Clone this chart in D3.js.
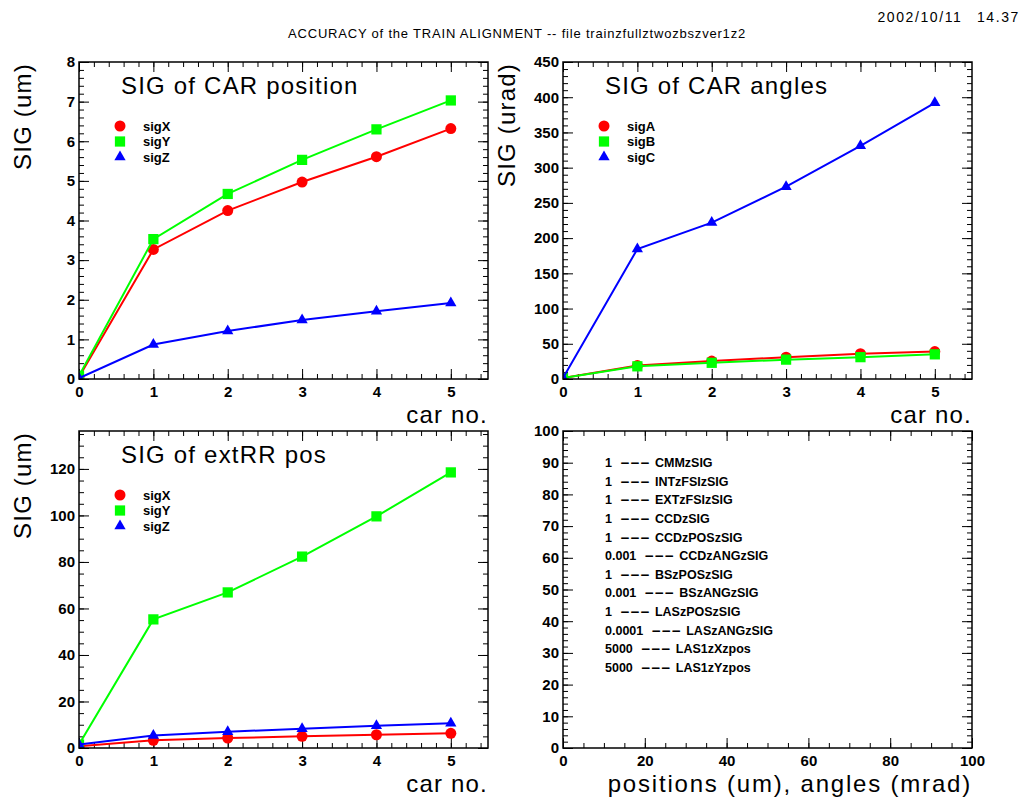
<!DOCTYPE html>
<html>
<head>
<meta charset="utf-8">
<script src="https://cdn.jsdelivr.net/npm/d3@7"></script>
<style>
body { margin: 0; background: #fff; }
text { font-family: "Liberation Sans", Arial, sans-serif; }
</style>
</head>
<body>
<svg id="chart" width="1025" height="798"></svg>
<script>
// values
const carNo = [0, 1, 2, 3, 4, 5];
const posSigX = [0.05, 3.27, 4.25, 4.97, 5.61, 6.32];
const posSigY = [0.08, 3.53, 4.67, 5.53, 6.30, 7.03];
const posSigZ = [0.02, 0.87, 1.21, 1.49, 1.71, 1.92];
const angSigA = [1.5, 19, 25.5, 31, 36, 39];
const angSigB = [1.5, 18, 23, 27.5, 31, 35];
const angSigC = [1.5, 184.5, 222, 273, 331, 392];
const extSigX = [0.7, 3.3, 4.3, 5.0, 5.7, 6.3];
const extSigY = [1.5, 55.3, 66.9, 82.3, 99.6, 118.5];
const extSigZ = [1.5, 5.4, 7.0, 8.3, 9.6, 10.6];
const scaleFactors = ["1", "1", "1", "1", "1", "0.001", "1", "0.001", "1", "0.0001", "5000", "5000"];
const sigNames = ["CMMzSIG", "INTzFSIzSIG", "EXTzFSIzSIG", "CCDzSIG", "CCDzPOSzSIG", "CCDzANGzSIG",
                  "BSzPOSzSIG", "BSzANGzSIG", "LASzPOSzSIG", "LASzANGzSIG", "LAS1zXzpos", "LAS1zYzpos"];

const red = "#ff0000", green = "#00ff00", blue = "#0000ff";
const markers = [d3.symbolCircle, d3.symbolSquare, d3.symbolTriangle];
const markerSize = [95, 105, 55];

const panels = [
  {x0: 79, x1: 488, y0: 62, y1: 379, xDom: [0, 5.5], yDom: [0, 8], xMaj: 1, xMin: 0.2, yMaj: 1, yMin: 0.2,
   title: "SIG of CAR position", yTitle: "SIG (um)", xTitle: "car no.",
   series: [posSigX, posSigY, posSigZ], names: ["sigX", "sigY", "sigZ"]},
  {x0: 563, x1: 972, y0: 62, y1: 379, xDom: [0, 5.5], yDom: [0, 450], xMaj: 1, xMin: 0.2, yMaj: 50, yMin: 10,
   title: "SIG of CAR angles", yTitle: "SIG (urad)", xTitle: "car no.",
   series: [angSigA, angSigB, angSigC], names: ["sigA", "sigB", "sigC"]},
  {x0: 79, x1: 488, y0: 431, y1: 748, xDom: [0, 5.5], yDom: [0, 136.3], xMaj: 1, xMin: 0.2, yMaj: 20, yMin: 5,
   title: "SIG of extRR pos", yTitle: "SIG (um)", xTitle: "car no.",
   series: [extSigX, extSigY, extSigZ], names: ["sigX", "sigY", "sigZ"]},
  {x0: 563, x1: 972, y0: 431, y1: 748, xDom: [0, 100], yDom: [0, 100], xMaj: 20, xMin: 5, yMaj: 10, yMin: 2,
   title: null, yTitle: null, xTitle: "positions (um), angles (mrad)", series: [], names: []}
];
const colors = [red, green, blue];

const svg = d3.select("#chart");

// header
svg.append("text")
  .attr("x", 517).attr("y", 38)
  .attr("text-anchor", "middle")
  .style("font-size", "13px").style("letter-spacing", "0.8px")
  .text("ACCURACY of the TRAIN ALIGNMENT -- file trainzfullztwozbszver1z2");
svg.append("text")
  .attr("x", 1020).attr("y", 22)
  .attr("text-anchor", "end")
  .style("font-size", "14px").style("letter-spacing", "1.6px")
  .style("word-spacing", "9px")
  .text("2002/10/11 14.37");

function tickList(dom, step) {
  const n = Math.floor(dom[1] / step + 1e-6);
  return d3.range(0, n + 1).map(i => +(i * step).toFixed(6));
}

panels.forEach((p, pi) => {
  const w = p.x1 - p.x0, h = p.y1 - p.y0;
  const g = svg.append("g").attr("transform", "translate(" + p.x0 + "," + p.y0 + ")");
  const xs = d3.scaleLinear().domain(p.xDom).range([0, w]);
  const ys = d3.scaleLinear().domain(p.yDom).range([h, 0]);

  const xMajor = tickList(p.xDom, p.xMaj), xMinor = tickList(p.xDom, p.xMin);
  const yMajor = tickList(p.yDom, p.yMaj), yMinor = tickList(p.yDom, p.yMin);

  // ticks point inward, on all four sides
  const axes = g.append("g").attr("class", "axes");
  axes.append("g").attr("transform", "translate(0," + h + ")")
    .call(d3.axisBottom(xs).tickValues(xMajor).tickSizeInner(-10).tickSizeOuter(0).tickPadding(7).tickFormat(d3.format("d")));
  axes.append("g").attr("transform", "translate(0," + h + ")")
    .call(d3.axisBottom(xs).tickValues(xMinor).tickSizeInner(-5).tickSizeOuter(0).tickFormat(""));
  axes.append("g")
    .call(d3.axisTop(xs).tickValues(xMajor).tickSizeInner(-10).tickSizeOuter(0).tickFormat(""));
  axes.append("g")
    .call(d3.axisTop(xs).tickValues(xMinor).tickSizeInner(-5).tickSizeOuter(0).tickFormat(""));
  axes.append("g")
    .call(d3.axisLeft(ys).tickValues(yMajor).tickSizeInner(-10).tickSizeOuter(0).tickPadding(4).tickFormat(d3.format("d")));
  axes.append("g")
    .call(d3.axisLeft(ys).tickValues(yMinor).tickSizeInner(-5).tickSizeOuter(0).tickFormat(""));
  axes.append("g").attr("transform", "translate(" + w + ",0)")
    .call(d3.axisRight(ys).tickValues(yMajor).tickSizeInner(-10).tickSizeOuter(0).tickFormat(""));
  axes.append("g").attr("transform", "translate(" + w + ",0)")
    .call(d3.axisRight(ys).tickValues(yMinor).tickSizeInner(-5).tickSizeOuter(0).tickFormat(""));
  axes.selectAll(".domain").remove();
  axes.selectAll(".tick line").attr("stroke", "#000").attr("stroke-width", 1);
  axes.selectAll(".tick text")
    .attr("fill", "#000")
    .style("font-family", "'Liberation Sans', Arial, sans-serif")
    .style("font-size", "15px").style("font-weight", "bold");

  // data, clipped to the frame
  g.append("clipPath").attr("id", "clip" + pi)
    .append("rect").attr("width", w).attr("height", h);
  const plot = g.append("g").attr("clip-path", "url(#clip" + pi + ")");
  const line = d3.line().x((d, i) => xs(carNo[i])).y(d => ys(d));
  p.series.forEach((s, si) => {
    plot.append("path").datum(s)
      .attr("d", line)
      .attr("fill", "none").attr("stroke", colors[si]).attr("stroke-width", 2);
    plot.selectAll(".m" + si).data(s).enter().append("path")
      .attr("class", "m" + si)
      .attr("transform", (d, i) => "translate(" + xs(carNo[i]) + "," + ys(d) + ")")
      .attr("d", d3.symbol().type(markers[si]).size(markerSize[si]))
      .attr("fill", colors[si]);
  });

  g.append("rect").attr("width", w).attr("height", h)
    .attr("fill", "none").attr("stroke", "#000").attr("stroke-width", 1.5);

  // legend
  p.names.forEach((nm, li) => {
    const ly = 64 + 15.5 * li;
    g.append("path")
      .attr("transform", "translate(41," + ly + ")")
      .attr("d", d3.symbol().type(markers[li]).size(markerSize[li]))
      .attr("fill", colors[li]);
    g.append("text").attr("x", 64).attr("y", ly + 4.5)
      .style("font-size", "13px").style("font-weight", "bold")
      .text(nm);
  });

  if (p.title) {
    g.append("text").attr("x", 42).attr("y", 32)
      .style("font-size", "24px").style("letter-spacing", "1.2px")
      .text(p.title);
  }
  if (p.yTitle) {
    g.append("text")
      .attr("transform", "translate(-48,1)rotate(-90)")
      .attr("text-anchor", "end")
      .style("font-size", "24px").style("letter-spacing", "1.2px")
      .text(p.yTitle);
  }
  g.append("text").attr("x", w).attr("y", h + 43.5)
    .attr("text-anchor", "end")
    .style("font-size", "24px").style("letter-spacing", pi === 3 ? "1.8px" : "1.2px")
    .text(p.xTitle);

  // scale factor list in the empty fourth pad
  if (pi === 3) {
    sigNames.forEach((nm, ri) => {
      const ry = 31.7 + 18.64 * ri + 4.3;
      const num = g.append("text").attr("x", 42).attr("y", ry)
        .style("font-size", "12.5px").style("font-weight", "bold")
        .text(scaleFactors[ri]);
      const dx = 42 + num.node().getComputedTextLength() + 8;
      g.append("text").attr("x", dx).attr("y", ry)
        .attr("textLength", 30).attr("lengthAdjust", "spacingAndGlyphs")
        .style("font-size", "12.5px").style("font-weight", "bold")
        .text("---");
      g.append("text").attr("x", dx + 35).attr("y", ry)
        .style("font-size", "12.5px").style("font-weight", "bold")
        .text(nm);
    });
  }
});
</script>
</body>
</html>
